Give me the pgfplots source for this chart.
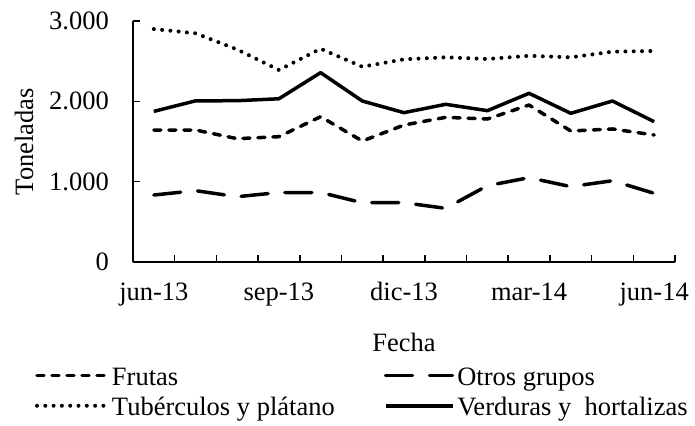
\documentclass[border=0pt]{standalone}
\usepackage{fontspec}
\setmainfont{Liberation Serif}
\usepackage{pgfplots}
\pgfplotsset{compat=1.18}
\pgfplotsset{
  leglong/.style={legend image code/.code={\draw[##1] (0bp,3.5bp) -- (70bp,3.5bp);}},
  legshort/.style={legend image code/.code={\draw[##1] (0bp,3.5bp) -- (67bp,3.5bp);}},
}

\begin{document}
\begin{tikzpicture}[font=\fontsize{26.5bp}{31bp}\selectfont]
\useasboundingbox (-133bp,-164bp) rectangle (562bp,262bp);
\begin{axis}[
  at={(0,0)}, anchor=south west,
  scale only axis, width=542bp, height=241bp,
  xmin=-0.5, xmax=12.5, ymin=0, ymax=3000,
  axis lines*=left,
  axis line style={line width=1.6bp},
  every tick/.style={black, line width=1.6bp},
  tick align=inside, major tick length=7bp,
  /pgf/number format/assume math mode=true,
  % ticks between months, labels every third month
  xtick={0.5,1.5,...,12.5}, xticklabels={},
  extra x ticks={0,3,6,9,12},
  extra x tick labels={jun-13,sep-13,dic-13,mar-14,jun-14},
  extra x tick style={major tick length=0pt},
  xticklabel style={anchor=base, inner sep=0pt, yshift=-38bp},
  ytick={0,1000,2000,3000}, yticklabels={0,1.000,2.000,3.000},
  yticklabel style={anchor=east, inner sep=0pt, xshift=-24bp},
  xlabel={Fecha},
  xlabel style={at={(axis description cs:0.5,0)}, anchor=base, inner sep=0pt, yshift=-89bp},
  ylabel={Toneladas},
  ylabel style={at={(axis description cs:-0.1845,0.5)}, anchor=base, inner sep=0pt},
  legend columns=2,
  legend cell align=left,
  legend style={draw=none, fill=none,
    at={(axis description cs:0,0)}, anchor=north west,
    xshift=-98bp, yshift=-104.5bp,
    inner sep=0pt, outer sep=0pt, row sep=6bp, column sep=0pt,
    nodes={inner sep=0pt, text height=18.5bp, text depth=6bp},
    /tikz/column 1/.style={column sep=3bp},
    /tikz/column 2/.style={column sep=49bp},
    /tikz/column 3/.style={column sep=3bp}},
]

% Frutas
\addplot[black, line width=3.5bp, line join=round, line cap=round,
  dash pattern=on 7bp off 8bp, leglong]
  coordinates {(0,1643) (1,1643) (2,1535) (3,1560) (4,1809) (5,1506) (6,1705)
    (7,1801) (8,1780) (9,1954) (10,1631) (11,1656) (12,1581)};

% Otros grupos
\addplot[black, line width=3.5bp, line join=round, line cap=round,
  dash pattern=on 27bp off 17bp, legshort]
  coordinates {(0,834) (1,888) (2,813) (3,865) (4,865) (5,738) (6,738)
    (7,668) (8,950) (9,1050) (10,938) (11,1012) (12,855)};

% Tuberculos y platano
\addplot[black, line width=4bp, line join=round, line cap=round,
  dash pattern=on 0bp off 8.3bp, leglong]
  coordinates {(0,2900) (1,2847) (2,2645) (3,2390) (4,2655) (5,2431) (6,2523)
    (7,2548) (8,2527) (9,2567) (10,2548) (11,2618) (12,2627)};

% Verduras y hortalizas
\addplot[black, line width=3.5bp, line join=round, legshort]
  coordinates {(0,1875) (1,2006) (2,2008) (3,2032) (4,2357) (5,2004) (6,1859)
    (7,1963) (8,1884) (9,2100) (10,1851) (11,2004) (12,1747)};

\legend{Frutas,Otros grupos,Tubérculos y plátano,Verduras y\ \ hortalizas}
\end{axis}
\end{tikzpicture}
\end{document}
